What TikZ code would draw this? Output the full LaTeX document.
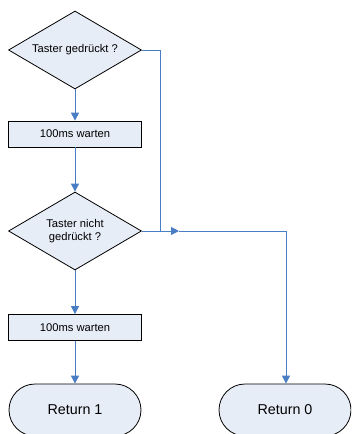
\documentclass[tikz,border=0pt]{standalone}
\usepackage{fontspec}
\setmainfont{Liberation Sans}
\usetikzlibrary{arrows.meta,shapes.geometric,shapes.misc}
\newlength{\ShapeWidth}
\newlength{\BoxHeight}
\setlength{\ShapeWidth}{133pt}
\setlength{\BoxHeight}{26pt}
\definecolor{flowblue}{RGB}{74,126,196}
\definecolor{shapefill}{RGB}{231,237,247}
\tikzset{
  decision/.style={draw, diamond, fill=shapefill, line width=0.8pt, minimum width=\ShapeWidth, minimum height=78pt, inner sep=0pt, aspect=1.7, align=center, font=\fontsize{11.2}{13}\selectfont},
  process/.style={draw, rectangle, fill=shapefill, line width=0.8pt, minimum width=\ShapeWidth, minimum height=\BoxHeight, inner sep=0pt, font=\fontsize{11.2}{13}\selectfont},
  terminal/.style={draw, rounded rectangle, fill=shapefill, line width=0.8pt, minimum width=132pt, minimum height=52pt, inner sep=0pt, font=\fontsize{14.3}{16}\selectfont},
  flow/.style={draw=flowblue, line width=1pt},
  flow arrow/.style={flow, -{Triangle[length=8pt,width=8pt]}}
}
\begin{document}
\begin{tikzpicture}[x=1pt, y=-1pt]
  \clip (0,0) rectangle (351,434);
  \fill[white] (0,0) rectangle (351,434);

  \node[decision] (ask1) at (75,50) {Taster gedrückt ?};
  \node[process] (wait1) at (75,134) {100ms warten};
  \node[decision] (ask2) at (75,231) {Taster nicht\\gedrückt ?};
  \node[process] (wait2) at (75,327.5) {100ms warten};
  \node[terminal] (ret1) at (75,410) {Return 1};
  \node[terminal] (ret0) at (285,410) {Return 0};

  \coordinate (bypass) at (160,50);
  \coordinate (join) at (160,231);
  \coordinate (mid) at (179,231);
  \coordinate (corner) at (286,231);

  \draw[flow arrow] (ask1.south) -- (wait1.north);
  \draw[flow arrow] (wait1.south) -- (ask2.north);
  \draw[flow arrow] (ask2.south) -- (wait2.north);
  \draw[flow arrow] (wait2.south) -- (ret1.north);

  \draw[flow] (ask1.east) -- (bypass) -- (join);
  \draw[flow arrow] (ask2.east) -- (mid);
  \draw[flow] (mid) -- (corner);
  \draw[flow arrow] (corner) -- (corner |- ret0.north);
\end{tikzpicture}
\end{document}
